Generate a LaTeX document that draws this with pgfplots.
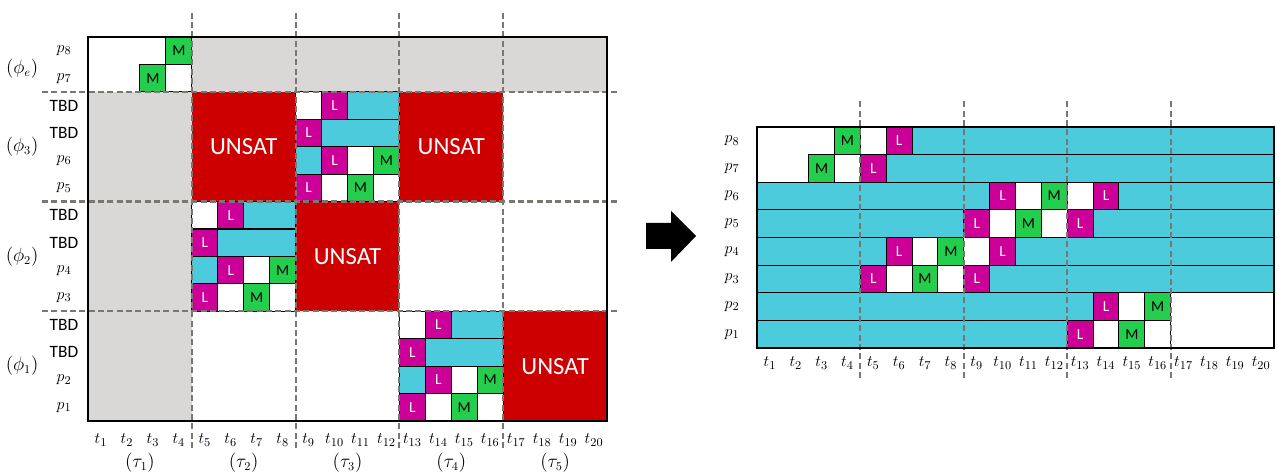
\documentclass[border=0pt]{standalone}
\usepackage{fontspec}
\setmainfont{Carlito}
\usepackage{pgfplots}
\pgfplotsset{compat=1.18}
\definecolor{cyc}{RGB}{75,203,219}
\definecolor{mgc}{RGB}{204,0,153}
\definecolor{grc}{RGB}{34,206,76}
\definecolor{rdc}{RGB}{204,0,0}
\definecolor{gyc}{RGB}{217,216,214}
\definecolor{dgc}{RGB}{120,120,112}
\newcommand{\rect}[5]{\addplot[#5] coordinates {(#1,#2) (#3,#2) (#3,#4) (#1,#4)} -- cycle;}
\newcommand{\Cc}[4]{\rect{#1}{#2}{#3}{#4}{fill=cyc,draw=black,line width=0.8pt}}
\newcommand{\Wc}[4]{\rect{#1}{#2}{#3}{#4}{fill=white,draw=black,line width=0.8pt}}
\newcommand{\Lc}[4]{\rect{#1}{#2}{#3}{#4}{fill=mgc,draw=black,line width=0.8pt}%
  \pgfmathsetmacro\cxx{(#1+#3)/2}\pgfmathsetmacro\cyy{(#2+#4)/2}%
  \edef\tmp{\noexpand\node[lab,text=white] at (axis cs:\cxx,\cyy) {L};}\tmp}
\newcommand{\Mc}[4]{\rect{#1}{#2}{#3}{#4}{fill=grc,draw=black,line width=0.8pt}%
  \pgfmathsetmacro\cxx{(#1+#3)/2}\pgfmathsetmacro\cyy{(#2+#4)/2}%
  \edef\tmp{\noexpand\node[lab,text=black] at (axis cs:\cxx,\cyy) {M};}\tmp}
\tikzset{lab/.style={font=\fontsize{11.5}{12}\selectfont,inner sep=0pt},
  dl/.style={draw=dgc,line width=1.6pt,dash pattern=on 4.5pt off 2.5pt},
  grp/.style={font=\fontsize{13.5}{15}\selectfont}}
\pgfplotsset{grid chart/.style={scale only axis, xmin=0, xmax=20, ymin=0,
  axis on top, clip=false, axis line style={line width=1.9pt},
  major tick length=0pt, tick style={draw=none},
  ticklabel style={font=\fontsize{13}{15}\selectfont},
  xtick={0.5,1.5,...,19.5},
  xticklabels={$t_{1}$,$t_{2}$,$t_{3}$,$t_{4}$,$t_{5}$,$t_{6}$,$t_{7}$,$t_{8}$,$t_{9}$,$t_{10}$,$t_{11}$,$t_{12}$,$t_{13}$,$t_{14}$,$t_{15}$,$t_{16}$,$t_{17}$,$t_{18}$,$t_{19}$,$t_{20}$}}}
\begin{document}
\begin{tikzpicture}
\path[use as bounding box] (0,0) rectangle (957.75pt,354.75pt);
% ---------------- left chart ----------------
\begin{axis}[grid chart, at={(66pt,39pt)}, anchor=south west,
  width=389.25pt, height=288pt, ymax=14,
  xticklabel style={anchor=center, yshift=-14.25pt},
  ytick={0.5,1.5,...,13.5},
  yticklabels={$p_{1}$,$p_{2}$,TBD,TBD,$p_{3}$,$p_{4}$,TBD,TBD,$p_{5}$,$p_{6}$,TBD,TBD,$p_{7}$,$p_{8}$},
  yticklabel style={anchor=center, xshift=-18pt}]
\rect{4}{12}{20}{14}{fill=gyc,draw=none}
\rect{0}{0}{4}{12}{fill=gyc,draw=none}
\rect{4}{8}{8}{12}{fill=rdc,draw=none}
\rect{12}{8}{16}{12}{fill=rdc,draw=none}
\rect{8}{4}{12}{8}{fill=rdc,draw=none}
\rect{16}{0}{20}{4}{fill=rdc,draw=none}
\Mc{3}{13}{4}{14} \Mc{2}{12}{3}{13} \Wc{3}{12}{4}{13}
% block phi3 x tau3
\Wc{8}{11}{9}{12} \Lc{9}{11}{10}{12} \Cc{10}{11}{12}{12}
\Lc{8}{10}{9}{11} \Cc{9}{10}{12}{11}
\Cc{8}{9}{9}{10} \Lc{9}{9}{10}{10} \Wc{10}{9}{11}{10} \Mc{11}{9}{12}{10}
\Lc{8}{8}{9}{9} \Wc{9}{8}{10}{9} \Mc{10}{8}{11}{9} \Wc{11}{8}{12}{9}
% block phi2 x tau2
\Wc{4}{7}{5}{8} \Lc{5}{7}{6}{8} \Cc{6}{7}{8}{8}
\Lc{4}{6}{5}{7} \Cc{5}{6}{8}{7}
\Cc{4}{5}{5}{6} \Lc{5}{5}{6}{6} \Wc{6}{5}{7}{6} \Mc{7}{5}{8}{6}
\Lc{4}{4}{5}{5} \Wc{5}{4}{6}{5} \Mc{6}{4}{7}{5} \Wc{7}{4}{8}{5}
% block phi1 x tau4
\Wc{12}{3}{13}{4} \Lc{13}{3}{14}{4} \Cc{14}{3}{16}{4}
\Lc{12}{2}{13}{3} \Cc{13}{2}{16}{3}
\Cc{12}{1}{13}{2} \Lc{13}{1}{14}{2} \Wc{14}{1}{15}{2} \Mc{15}{1}{16}{2}
\Lc{12}{0}{13}{1} \Wc{13}{0}{14}{1} \Mc{14}{0}{15}{1} \Wc{15}{0}{16}{1}
% dashed separators
\addplot[dl] coordinates {(4,-0.98) (4,14.98)};
\addplot[dl] coordinates {(8,-0.98) (8,14.98)};
\addplot[dl] coordinates {(12,-0.98) (12,14.98)};
\addplot[dl] coordinates {(16,-0.98) (16,14.98)};
\addplot[dl] coordinates {(-1.77,4) (20.5,4)};
\addplot[dl] coordinates {(-1.77,8) (20.5,8)};
\addplot[dl] coordinates {(-1.77,12) (20.5,12)};
\node[text=white,font=\fontsize{18.5}{20}\selectfont] at (axis cs:6,10) {UNSAT};
\node[text=white,font=\fontsize{18.5}{20}\selectfont] at (axis cs:14,10) {UNSAT};
\node[text=white,font=\fontsize{18.5}{20}\selectfont] at (axis cs:10,6) {UNSAT};
\node[text=white,font=\fontsize{18.5}{20}\selectfont] at (axis cs:18,2) {UNSAT};
\node[grp] at (axis cs:-2.54,12.85) {$(\phi_{e})$};
\node[grp] at (axis cs:-2.54,10) {$(\phi_{3})$};
\node[grp] at (axis cs:-2.54,6) {$(\phi_{2})$};
\node[grp] at (axis cs:-2.54,2) {$(\phi_{1})$};
\node[grp] at (axis cs:2,-1.53) {$(\tau_{1})$};
\node[grp] at (axis cs:6,-1.53) {$(\tau_{2})$};
\node[grp] at (axis cs:10,-1.53) {$(\tau_{3})$};
\node[grp] at (axis cs:14,-1.53) {$(\tau_{4})$};
\node[grp] at (axis cs:18,-1.53) {$(\tau_{5})$};
\end{axis}
% ---------------- arrow ----------------
\fill[black] (484.5pt,168pt) -- (503.25pt,168pt) -- (503.25pt,158.25pt) -- (522pt,177.75pt)
  -- (503.25pt,196.5pt) -- (503.25pt,187.5pt) -- (484.5pt,187.5pt) -- cycle;
% ---------------- right chart ----------------
\begin{axis}[grid chart, at={(567.75pt,93.75pt)}, anchor=south west,
  width=387.75pt, height=165.75pt, ymax=8,
  xticklabel style={anchor=center, yshift=-11.25pt},
  ytick={0.5,1.5,...,7.5},
  yticklabels={$p_{1}$,$p_{2}$,$p_{3}$,$p_{4}$,$p_{5}$,$p_{6}$,$p_{7}$,$p_{8}$},
  yticklabel style={anchor=center, xshift=-18.75pt}]
\Mc{3}{7}{4}{8} \Wc{4}{7}{5}{8} \Lc{5}{7}{6}{8} \Cc{6}{7}{20}{8}
\Mc{2}{6}{3}{7} \Wc{3}{6}{4}{7} \Lc{4}{6}{5}{7} \Cc{5}{6}{20}{7}
\Cc{0}{5}{9}{6} \Lc{9}{5}{10}{6} \Wc{10}{5}{11}{6} \Mc{11}{5}{12}{6} \Wc{12}{5}{13}{6} \Lc{13}{5}{14}{6} \Cc{14}{5}{20}{6}
\Cc{0}{4}{8}{5} \Lc{8}{4}{9}{5} \Wc{9}{4}{10}{5} \Mc{10}{4}{11}{5} \Wc{11}{4}{12}{5} \Lc{12}{4}{13}{5} \Cc{13}{4}{20}{5}
\Cc{0}{3}{5}{4} \Lc{5}{3}{6}{4} \Wc{6}{3}{7}{4} \Mc{7}{3}{8}{4} \Wc{8}{3}{9}{4} \Lc{9}{3}{10}{4} \Cc{10}{3}{20}{4}
\Cc{0}{2}{4}{3} \Lc{4}{2}{5}{3} \Wc{5}{2}{6}{3} \Mc{6}{2}{7}{3} \Wc{7}{2}{8}{3} \Lc{8}{2}{9}{3} \Cc{9}{2}{20}{3}
\Cc{0}{1}{13}{2} \Lc{13}{1}{14}{2} \Wc{14}{1}{15}{2} \Mc{15}{1}{16}{2}
\Cc{0}{0}{12}{1} \Lc{12}{0}{13}{1} \Wc{13}{0}{14}{1} \Mc{14}{0}{15}{1} \Wc{15}{0}{16}{1}
\addplot[dl] coordinates {(4,-1.09) (4,8.95)};
\addplot[dl] coordinates {(8,-1.09) (8,8.95)};
\addplot[dl] coordinates {(12,-1.09) (12,8.95)};
\addplot[dl] coordinates {(16,-1.09) (16,8.95)};
\end{axis}
\end{tikzpicture}
\end{document}
